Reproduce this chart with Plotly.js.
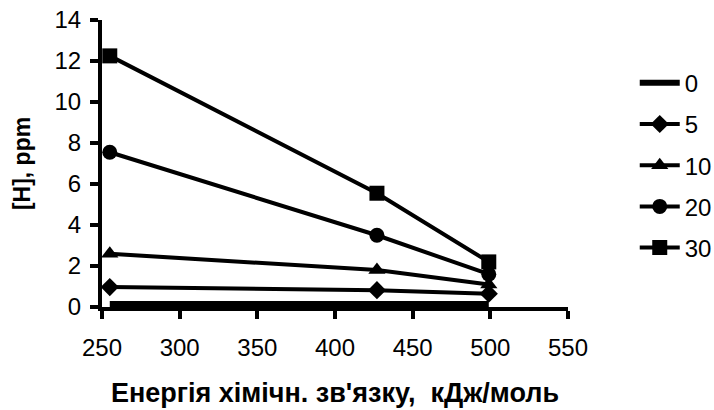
<!DOCTYPE html>
<html>
<head>
<meta charset="utf-8">
<script src="https://cdn.plot.ly/plotly-3.0.1.min.js"></script>
<style>html,body{margin:0;padding:0;background:#fff;}#chart{width:714px;height:410px;}</style>
</head>
<body>
<div id="chart"></div>
<script>
// Bond energy (kJ/mol) on the x axis
const bondEnergy = [255, 427, 499];

// Hydrogen content [H], ppm for each series
const seriesNames = ['0', '5', '10', '20', '30'];
const h0  = [0.15, 0.15, 0.15];
const h5  = [0.97, 0.82, 0.65];
const h10 = [2.6, 1.8, 1.1];
const h20 = [7.55, 3.5, 1.6];
const h30 = [12.25, 5.55, 2.2];

const xTicks = [250, 300, 350, 400, 450, 500, 550];
const yTicks = [0, 2, 4, 6, 8, 10, 12, 14];

const seriesValues = [h0, h5, h10, h20, h30];
const symbols = ['circle', 'diamond', 'triangle-up', 'circle', 'square'];
const markerSizes = [0, 14, 15, 15, 15];

const traces = seriesValues.map((vals, i) => ({
  x: bondEnergy,
  y: vals,
  name: seriesNames[i],
  type: 'scatter',
  mode: i === 0 ? 'lines' : 'lines+markers',
  line: {color: '#000', width: i === 0 ? 6 : 4},
  marker: {symbol: symbols[i], size: markerSizes[i], color: '#000'},
  legendgroup: 'g' + i,
  cliponaxis: false
}));

const family = 'Liberation Sans, Arial, sans-serif';
const tickFont = {family: family, size: 24, color: '#000'};
const xTitleFont = {family: family, size: 27, color: '#000'};
const yTitleFont = {family: family, size: 23, color: '#000'};

const layout = {
  width: 714,
  height: 410,
  margin: {l: 102, r: 146, t: 20, b: 103, autoexpand: false},
  paper_bgcolor: '#fff',
  plot_bgcolor: '#fff',
  font: tickFont,
  showlegend: true,
  legend: {
    xref: 'container', yref: 'container',
    x: 0.889, xanchor: 'left',
    y: 0.852, yanchor: 'top',
    traceorder: 'grouped',
    tracegroupgap: 7,
    font: tickFont,
    itemwidth: 40
  },
  xaxis: {
    range: [250, 550],
    tickvals: xTicks,
    ticktext: xTicks.map(String),
    ticks: 'outside', ticklen: 8, tickwidth: 4, tickcolor: '#000',
    ticklabelstandoff: 8,
    showline: true, linewidth: 4, linecolor: '#000',
    showgrid: false, zeroline: false,
    tickfont: tickFont,
    title: {text: '<b>Енергія хімічн. зв\'язку,  кДж/моль</b>', font: xTitleFont, standoff: 24}
  },
  yaxis: {
    range: [0, 14],
    tickvals: yTicks,
    ticktext: yTicks.map(String),
    ticks: 'outside', ticklen: 8, tickwidth: 4, tickcolor: '#000',
    ticklabelstandoff: 4,
    showline: true, linewidth: 4, linecolor: '#000',
    showgrid: false, zeroline: false,
    tickfont: tickFont,
    title: {text: '<b>[H], ppm</b>', font: yTitleFont, standoff: 18}
  }
};

Plotly.newPlot('chart', traces, layout, {displayModeBar: false, staticPlot: true});
</script>
</body>
</html>
